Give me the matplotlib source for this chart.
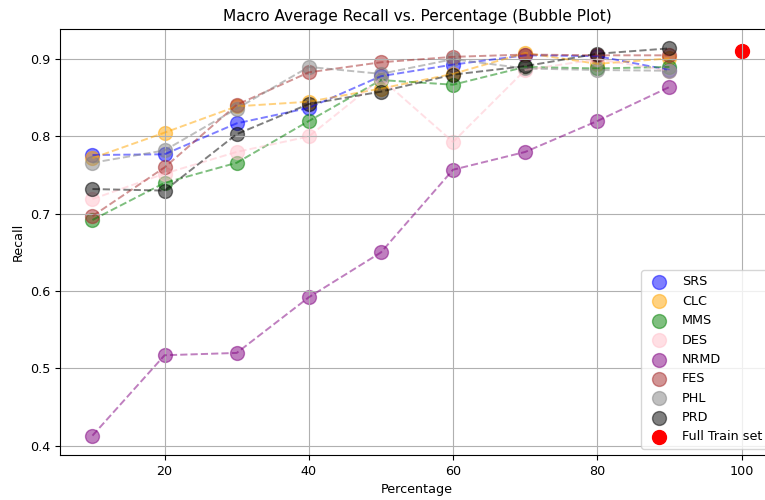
import matplotlib.pyplot as plt

percentages = [10, 20, 30, 40, 50, 60, 70, 80, 90]

srs = [0.776, 0.777, 0.817, 0.837, 0.878, 0.893, 0.905, 0.904, 0.886]
clc = [0.772, 0.805, 0.839, 0.845, 0.862, 0.881, 0.908, 0.894, 0.901]
mms = [0.692, 0.740, 0.766, 0.820, 0.873, 0.867, 0.890, 0.888, 0.890]
des = [0.719, 0.752, 0.780, 0.800, 0.875, 0.793, 0.886, 0.900, 0.885]
nrmd = [0.413, 0.517, 0.520, 0.592, 0.650, 0.757, 0.780, 0.820, 0.864]
fes = [0.697, 0.760, 0.841, 0.883, 0.896, 0.903, 0.906, 0.905, 0.905]
phl = [0.766, 0.782, 0.836, 0.890, 0.881, 0.900, 0.888, 0.886, 0.885]
prd = [0.732, 0.730, 0.803, 0.842, 0.858, 0.880, 0.891, 0.907, 0.914]

full_x = 100
full_recall = 0.910

methods = ["SRS", "CLC", "MMS", "DES", "NRMD", "FES", "PHL", "PRD"]
series = [srs, clc, mms, des, nrmd, fes, phl, prd]
colors = ["blue", "orange", "green", "pink", "purple", "brown", "gray", "black"]

# the reference looks like a slightly shrunk render, so scale text down a bit
plt.rcParams["font.size"] = 9.2
plt.rcParams["lines.linewidth"] = 1.4

fig = plt.figure(figsize=(7.65, 5), dpi=100)
ax = fig.add_axes([60 / 765, 45 / 500, 714 / 765, 426 / 500])

for name, vals, c in zip(methods, series, colors):
    ax.scatter(percentages, vals, s=100, color=c, alpha=0.5, label=name)
    ax.plot(percentages, vals, linestyle="--", color=c, alpha=0.5)

ax.scatter(full_x, full_recall, s=100, color="red", label="Full Train set")

ax.set_title("Macro Average Recall vs. Percentage (Bubble Plot)")
ax.set_xlabel("Percentage")
ax.set_ylabel("Recall")
ax.legend(loc="lower right")
ax.grid(True)

fig.savefig("out.png", dpi=100)
